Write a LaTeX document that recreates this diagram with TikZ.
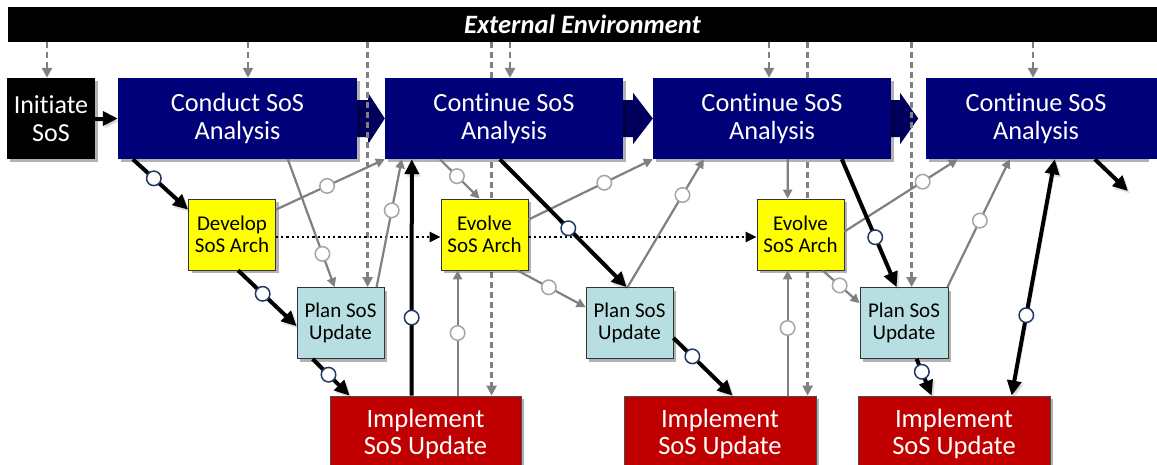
\documentclass[tikz,border=0pt]{standalone}
\usepackage{fontspec}
\setmainfont{Carlito}[Ligatures=NoCommon]
\usetikzlibrary{arrows.meta,shadows,calc}
\pgfdeclarelayer{bg}
\pgfsetlayers{bg,main}
\definecolor{navybox}{RGB}{0,0,120}
\definecolor{navyarrow}{RGB}{0,0,92}
\definecolor{archyellow}{RGB}{255,255,0}
\definecolor{planblue}{RGB}{183,222,224}
\definecolor{implred}{RGB}{192,0,0}
\definecolor{linegray}{RGB}{128,128,128}
\definecolor{ringblue}{RGB}{31,56,100}
\definecolor{ringgray}{RGB}{165,165,165}
\tikzset{
  myshadow/.style={drop shadow={shadow xshift=3pt,shadow yshift=-3pt,opacity=0.3,fill=black}},
  bigbox/.style={myshadow,fill=navybox,text=white,inner sep=0pt,align=center,
    minimum width=238pt,minimum height=81pt,font=\fontsize{26.3}{28}\selectfont},
  initbox/.style={myshadow,fill=black,text=white,inner sep=0pt,align=center,
    minimum width=88pt,minimum height=81pt,font=\fontsize{26}{28}\selectfont},
  smallbox/.style={myshadow,draw=black!80,line width=0.8pt,inner sep=0pt,align=center,
    minimum width=87pt,minimum height=71pt,font=\fontsize{21}{22.5}\selectfont},
  archbox/.style={smallbox,fill=archyellow},
  planbox/.style={smallbox,fill=planblue},
  implbox/.style={myshadow,draw=black!70,line width=0.8pt,fill=implred,text=white,inner sep=0pt,
    align=center,minimum width=191pt,minimum height=76pt,font=\fontsize{26.5}{27}\selectfont},
  lshadow/.style={preaction={draw=black,opacity=0.12,transform canvas={shift={(2pt,-2.5pt)}}}},
  blk/.style={lshadow,line width=4pt,black,-{Triangle[length=15pt,width=14pt]}},
  blkboth/.style={lshadow,line width=4pt,black,{Triangle[length=15pt,width=14pt]}-{Triangle[length=15pt,width=14pt]}},
  gry/.style={line width=2.2pt,linegray,-{Triangle[length=9pt,width=9pt]}},
  dsh/.style={line width=2.6pt,linegray,dash pattern=on 6pt off 4pt,-{Triangle[length=10pt,width=10pt]}},
  dotarrow/.style={line width=2.2pt,black,dash pattern=on 2.2pt off 3pt,-{Triangle[length=11pt,width=10pt]}},
  ringb/.style={circle,draw=ringblue,fill=white,line width=1.5pt,minimum size=14.5pt,inner sep=0pt},
  ringg/.style={circle,draw=ringgray,fill=white,line width=1.5pt,minimum size=14.5pt,inner sep=0pt},
  chev/.style={fill=navyarrow}
}
\begin{document}
\begin{tikzpicture}[x=1pt,y=-1pt]
\useasboundingbox (0,0) rectangle (1157,464);

% banner
\node[fill=black,text=white,inner sep=0pt,minimum width=1149pt,minimum height=35pt,
  font=\fontsize{26.5}{28}\selectfont\bfseries\itshape] (banner) at (582.5,24.5) {External Environment};

% top row
\node[initbox] (initiate) at (51,118.5) {Initiate\\SoS};
\node[bigbox,minimum width=239pt] (conduct) at (237.5,118.5) {Conduct SoS\\Analysis};
\node[bigbox] (cont1) at (504,118.5) {Continue SoS\\Analysis};
\node[bigbox] (cont2) at (772,118.5) {Continue SoS\\Analysis};
\node[bigbox,minimum width=220pt] (cont3) at (1036,118.5) {Continue SoS\\Analysis};
\fill[navybox] (cont3.north east) rectangle (cont3.south east -| banner.east);

% architecture boxes
\node[archbox] (develop) at (232,234.5) {Develop\\SoS Arch};
\node[archbox] (evolve1) at (484.5,234.5) {Evolve\\SoS Arch};
\node[archbox] (evolve2) at (800.5,234.5) {Evolve\\SoS Arch};

% plan boxes
\node[planbox] (plan1) at (340.5,323) {Plan SoS\\Update};
\node[planbox] (plan2) at (629.5,323) {Plan SoS\\Update};
\node[planbox,minimum width=88pt] (plan3) at (904,323) {Plan SoS\\Update};

% implement boxes
\node[implbox] (impl1) at (425.5,434) {Implement\\SoS Update};
\node[implbox,minimum width=192pt] (impl2) at (720,434) {Implement\\SoS Update};
\node[implbox,minimum width=192pt] (impl3) at (954,434) {Implement\\SoS Update};

\begin{pgfonlayer}{bg}
\fill[white] (0,0) rectangle (1157,464);
% chevrons between analysis boxes
\fill[chev] ([shift={(0,-18.5)}]conduct.east) -- ([shift={(11,-18.5)}]conduct.east)
  -- ([shift={(11,-25.5)}]conduct.east) -- (cont1.west) -- ([shift={(11,25.5)}]conduct.east)
  -- ([shift={(11,18.5)}]conduct.east) -- ([shift={(0,18.5)}]conduct.east) -- cycle;
\fill[chev] ([shift={(0,-18.5)}]cont1.east) -- ([shift={(10,-18.5)}]cont1.east)
  -- ([shift={(10,-25.5)}]cont1.east) -- (cont2.west) -- ([shift={(10,25.5)}]cont1.east)
  -- ([shift={(10,18.5)}]cont1.east) -- ([shift={(0,18.5)}]cont1.east) -- cycle;
\fill[chev] ([shift={(0,-18.5)}]cont2.east) -- ([shift={(9,-18.5)}]cont2.east)
  -- ([shift={(9,-25.5)}]cont2.east) -- ([shift={(27,0)}]cont2.east) -- ([shift={(9,25.5)}]cont2.east)
  -- ([shift={(9,18.5)}]cont2.east) -- ([shift={(0,18.5)}]cont2.east) -- cycle;
% dashed influences from the external environment
\draw[dsh] ([xshift=-4pt]initiate.north |- banner.south) -- ([xshift=-4pt]initiate.north);
\draw[dsh] ([xshift=10.5pt]conduct.north |- banner.south) -- ([xshift=10.5pt]conduct.north);
\draw[dsh] ([xshift=71pt]plan1.north west |- banner.south) -- ([xshift=71pt]plan1.north west);
\draw[dsh] ([xshift=162pt]impl1.north west |- banner.south) -- ([xshift=162pt]impl1.north west);
\draw[dsh] ([xshift=6pt]cont1.north |- banner.south) -- ([xshift=6pt]cont1.north);
\draw[dsh] ([xshift=-3pt]cont2.north |- banner.south) -- ([xshift=-3pt]cont2.north);
\draw[dsh] ([xshift=184pt]impl2.north west |- banner.south) -- ([xshift=184pt]impl2.north west);
\draw[dsh] ([xshift=52pt]plan3.north west |- banner.south) -- ([xshift=52pt]plan3.north west);
\draw[dsh] ([xshift=-3pt]cont3.north |- banner.south) -- ([xshift=-3pt]cont3.north);
\end{pgfonlayer}

% dotted architecture evolution
\draw[dotarrow] ([yshift=-2.5pt]develop.east) -- ([yshift=-2.5pt]evolve1.west);
\draw[dotarrow] ([yshift=-2.5pt]evolve1.east) -- ([yshift=-2.5pt]evolve2.west);

% gray connectors
\draw[gry] ([xshift=128pt]impl1.north west) -- node[ringg,pos=.5] (r5) {} ([xshift=17pt]evolve1.south west);
\draw[gry] ([yshift=-11pt]develop.north east) -- node[ringg,pos=.47] (r6) {} (cont1.south west);
\draw[gry] ([xshift=170pt]conduct.south west) -- node[ringg,pos=.74] (r7) {} ([xshift=38pt]plan1.north west);
\draw[gry] ([xshift=80pt]plan1.north west) -- node[ringg,pos=.6] (r8) {} ([xshift=17pt]cont1.south west);
\draw[gry] ([xshift=55pt]cont1.south west) -- node[ringg,pos=.43] (r10) {} ([xshift=39pt]evolve1.north west);
\draw[gry] ([yshift=-21pt]evolve1.north east) -- node[ringg,pos=.61] (r12) {} (cont2.south west);
\draw[gry] ([xshift=42pt]plan2.north west) -- node[ringg,pos=.72] (r13) {} ([xshift=51pt]cont2.south west);
\draw[gry] ([xshift=-11pt]evolve1.south east) -- node[ringg,pos=.46] (r14) {} ([yshift=-20pt]plan2.north west);
\draw[gry] ([xshift=164pt]impl2.north west) -- node[ringg,pos=.54] (r16) {} ([xshift=31pt]evolve2.south west);
\draw[gry] ([yshift=-33pt]evolve2.north east) -- node[ringg,pos=.69] (r17) {} ([xshift=32pt]cont3.south west);
\draw[gry] ([xshift=66pt]evolve2.south west) -- node[ringg,pos=.46] (r19) {} ([yshift=-16pt]plan3.north west);
\draw[gry] ([xshift=-1pt]plan3.north east) -- node[ringg,pos=.52] (r20) {} ([xshift=84pt]cont3.south west);
\draw[gry] ([xshift=135pt]cont2.south west) -- ([xshift=31pt]evolve2.north west);

% black connectors
\draw[blk] (initiate.east) -- (conduct.west);
\draw[blk] ([xshift=15pt]conduct.south west) -- node[ringb,pos=.38] (r1) {} ([yshift=-11pt]develop.north west);
\draw[blk] ([xshift=50pt]develop.south west) -- node[ringb,pos=.42] (r2) {} ([yshift=-39pt]plan1.north west);
\draw[blk] ([xshift=16pt]plan1.south west) -- node[ringb,pos=.43] (r3) {} ([xshift=20pt]impl1.north west);
\draw[blk] ([xshift=82pt]impl1.north west) -- node[ringb,pos=.33] (r4) {} ([xshift=27pt]cont1.south west);
\draw[blk] ([xshift=115pt]cont1.south west) -- node[ringb,pos=.54] (r11) {} ([xshift=41pt]plan2.north west);
\draw[blk] ([yshift=21pt]plan2.south east) -- node[ringb,pos=.32] (r15) {} ([xshift=109pt]impl2.north west);
\draw[blk] ([xshift=189pt]cont2.south west) -- node[ringb,pos=.61] (r18) {} ([xshift=37pt]plan3.north west);
\draw[blk] ([xshift=57pt]plan3.south west) -- node[ringb,pos=.35] (r23) {} ([xshift=74pt]impl3.north west);
\draw[blkboth] ([xshift=154pt]impl3.north west) -- node[ringb,pos=.34] (r21) {} ([xshift=129pt]cont3.south west);
\coordinate (free) at (1128,191);
\draw[blk] ([xshift=169pt]cont3.south west) -- (free);
\end{tikzpicture}
\end{document}
